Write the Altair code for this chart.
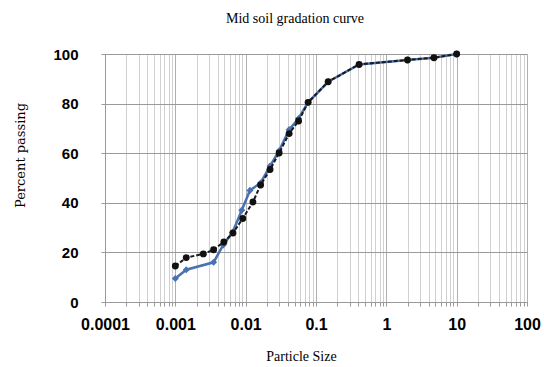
import altair as alt
import pandas as pd

# Series A (blue diamonds, solid line)
size_blue = [0.001, 0.00143, 0.0035, 0.0048, 0.0065, 0.0088, 0.0115, 0.0163, 0.0222,
             0.0299, 0.0415, 0.0565, 0.0773, 0.149, 0.41, 2.0, 4.75, 10.0]
pct_blue = [9.5, 13.0, 16.0, 23.0, 28.0, 37.0, 45.0, 48.0, 54.8,
            61.0, 69.5, 74.0, 80.5, 88.8, 95.8, 97.6, 98.5, 100.0]

# Series B (black circles, dashed line)
size_black = [0.001, 0.00143, 0.0025, 0.0035, 0.0049, 0.0066, 0.0091, 0.0127, 0.0163,
              0.0222, 0.0299, 0.0415, 0.0565, 0.0773, 0.149, 0.41, 2.0, 4.75, 10.0]
pct_black = [14.5, 17.9, 19.4, 21.1, 24.2, 27.8, 33.7, 40.3, 47.2,
             53.4, 60.1, 67.9, 73.0, 80.5, 88.8, 95.8, 97.6, 98.5, 100.0]

x_major = [0.0001, 0.001, 0.01, 0.1, 1, 10, 100]
x_minor_mult = [2, 3, 4, 5, 6, 7, 8, 9]
y_ticks = [0, 20, 40, 60, 80, 100]

x_values = sorted(x_major + [m * d for d in x_major[:-1] for m in x_minor_mult])

df_blue = pd.DataFrame({"size": size_blue, "pct": pct_blue})
df_black = pd.DataFrame({"size": size_black, "pct": pct_black})

is_major = "abs(log(datum.value)/LN10 - round(log(datum.value)/LN10)) < 1e-6"

x_enc = alt.X(
    "size:Q",
    scale=alt.Scale(type="log", domain=[0.0001, 100], nice=False),
    axis=alt.Axis(
        values=x_values,
        labelExpr=f"({is_major}) ? format(datum.value, '~g') : ''",
        labelOverlap=False,
        labelFlush=False,
        labelFont="Liberation Sans",
        labelFontWeight="bold",
        labelFontSize=16,
        labelColor="#000000",
        labelPadding=10,
        tickSize=4,
        tickColor="#999999",
        domainColor="#999999",
        gridColor={"condition": {"test": is_major, "value": "#b0b0b0"}, "value": "#d0d0d0"},
        title="Particle Size",
        titleFont="Liberation Serif",
        titleFontSize=14,
        titleFontWeight="normal",
        titleColor="#000000",
        titleX=196,
        titleY=58,
        titleBaseline="alphabetic",
        titleAlign="center",
    ),
)

y_enc = alt.Y(
    "pct:Q",
    scale=alt.Scale(domain=[0, 100], nice=False),
    axis=alt.Axis(
        values=y_ticks,
        labelFont="Liberation Sans",
        labelFontWeight="bold",
        labelFontSize=15,
        labelColor="#000000",
        labelPadding=23,
        tickSize=4,
        tickColor="#999999",
        domainColor="#999999",
        gridColor="#9a9a9a",
        title="Percent passing",
        titleFont="DejaVu Serif",
        titleFontSize=13,
        titleFontWeight="normal",
        titleColor="#000000",
        titleAngle=-90,
        titleX=-85,
        titleY=101,
        titleAlign="center",
        titleBaseline="middle",
    ),
)

blue_line = alt.Chart(df_blue).mark_line(color="#4a72b0", strokeWidth=2.5).encode(x=x_enc, y=y_enc)
blue_pts = alt.Chart(df_blue).mark_point(shape="diamond", filled=True, color="#4a72b0", size=50, opacity=1).encode(x=x_enc, y=y_enc)
black_line = alt.Chart(df_black).mark_line(color="#1a1a1a", strokeWidth=2, strokeDash=[4, 2]).encode(x=x_enc, y=y_enc)
black_pts = alt.Chart(df_black).mark_point(shape="circle", filled=True, color="#111111", size=48, opacity=1).encode(x=x_enc, y=y_enc)

chart = alt.layer(blue_line, blue_pts, black_line, black_pts).properties(
    width=422,
    height=248,
    autosize="none",
    padding={"left": 105, "top": 54, "right": 17, "bottom": 65},
    title=alt.TitleParams(
        "Mid soil gradation curve",
        font="Liberation Serif",
        fontSize=14,
        fontWeight="normal",
        color="#000000",
        dx=-21,
        offset=7,
        baseline="bottom",
    ),
).configure_view(stroke=None).configure(background="#ffffff")

chart.save("out.html", embed_options={"renderer": "svg", "actions": False})
